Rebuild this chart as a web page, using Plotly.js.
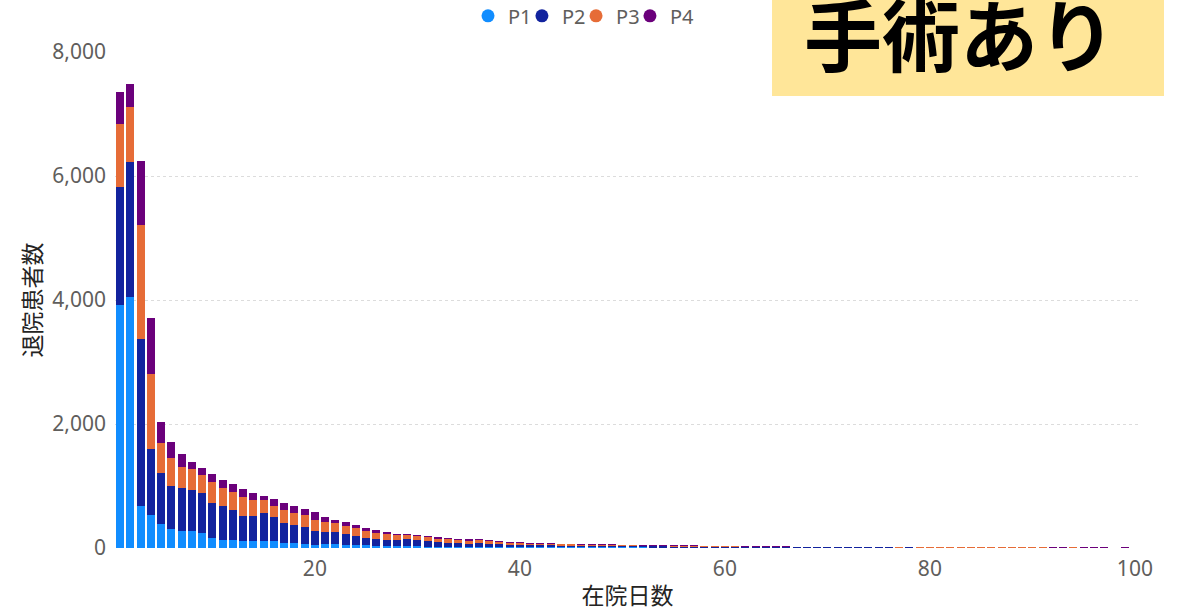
<!DOCTYPE html>
<html>
<head>
<meta charset="utf-8">
<script src="https://cdn.plot.ly/plotly-3.0.1.min.js"></script>
<style>html,body{margin:0;padding:0;background:#fff;}#chart{width:1188px;height:613px;}</style>
</head>
<body>
<div id="chart"></div>
<script>
// 在院日数 1..100
const days = Array.from({length: 100}, (_, i) => i + 1);

const seriesNames = ["P1", "P2", "P3", "P4"];
const seriesColors = ["#118DFF", "#12239E", "#E66C37", "#6B007B"];

const p1 = [3914,4043,680,525,392,306,268,278,242,160,
  129,134,113,118,108,113,81,75,65,48,
  65,59,54,48,43,32,27,27,30,27,
  22,22,16,16,16,16,16,16,16,16,
  16,16,16,16,14,13,12,11,10,10,
  9,9,8,8,7,8,7,6,6,5,
  5,5,5,4,4,4,4,4,3,3,
  3,3,3,3,3,2,2,3,2,2,
  2,2,2,2,2,2,2,1,2,1,
  2,1,1,2,1,1,1,1,1,1];
const p2 = [1914,2183,2691,1072,812,699,694,657,640,560,
  543,484,408,398,451,387,317,301,268,221,
  188,204,172,146,124,119,107,100,108,108,
  86,75,70,70,54,59,54,43,38,32,
  27,27,27,22,24,22,23,20,21,19,
  20,17,18,17,16,15,16,14,13,12,
  12,11,11,11,10,10,9,9,9,8,
  8,8,7,7,7,7,6,6,6,6,
  5,6,5,5,5,5,4,5,4,4,
  4,4,4,4,4,3,4,3,3,3];
const p3 = [1011,882,1833,1204,484,441,350,334,295,345,
  301,280,296,253,215,183,215,194,199,183,
  161,146,134,134,113,91,97,81,65,59,
  65,54,54,43,48,48,43,38,32,27,
  27,22,22,22,20,19,18,17,18,15,
  15,13,14,14,12,12,13,11,12,9,
  9,8,8,8,8,7,7,7,6,7,
  6,6,6,5,5,5,5,4,4,4,
  4,4,4,3,4,3,4,3,3,4,
  3,3,3,3,3,3,2,3,3,2];
const p4 = [521,370,1038,904,339,269,199,123,108,123,
  124,129,140,123,70,102,118,113,102,123,
  91,43,54,48,48,48,32,22,22,22,
  27,22,16,22,22,16,16,16,16,16,
  16,16,16,11,12,11,12,11,10,10,
  10,9,8,9,8,8,7,7,7,6,
  6,6,5,5,5,5,4,4,4,4,
  4,3,4,3,3,3,3,3,3,2,
  3,2,2,3,2,2,2,2,2,2,
  2,2,2,1,2,2,2,1,2,2];
const seriesValues = [p1, p2, p3, p4];

const xTicks = [20, 40, 60, 80, 100];
const yTicks = [0, 2000, 4000, 6000, 8000];
const xTitle = "在院日数";
const yTitle = "退院患者数";
const badgeText = "手術あり";

const FONT = "'Noto Sans', 'Noto Sans CJK JP', sans-serif";
const GRAY = "#605E5C";

const legendIds = ["legend", "legend2", "legend3", "legend4"];
const legendX = [0.3444, 0.397, 0.4498, 0.5024];

const traces = [];
seriesNames.forEach((name, i) => {
  traces.push({
    type: "bar",
    name: name,
    x: days,
    y: seriesValues[i],
    marker: {color: seriesColors[i], line: {width: 0}},
    showlegend: false,
    hovertemplate: name + ": %{y}<extra></extra>"
  });
});
// legend entries with round markers
seriesNames.forEach((name, i) => {
  traces.push({
    type: "scatter",
    mode: "markers",
    name: name,
    x: [null],
    y: [null],
    legend: legendIds[i],
    marker: {color: seriesColors[i], size: 13, symbol: "circle"},
    showlegend: true,
    hoverinfo: "skip"
  });
});

const layout = {
  width: 1188,
  height: 613,
  paper_bgcolor: "#ffffff",
  plot_bgcolor: "#ffffff",
  barmode: "stack",
  bargap: 0.2,
  margin: {l: 115, r: 48, t: 52, b: 65, autoexpand: false},
  font: {family: FONT, color: GRAY, size: 18},
  showlegend: true,
  xaxis: {
    range: [0.5, 100.5],
    tickvals: xTicks,
    ticktext: xTicks.map(String),
    showgrid: false,
    zeroline: false,
    showline: false,
    ticks: "",
    ticklabelstandoff: 6,
    automargin: false,
    tickfont: {family: FONT, size: 21, color: GRAY},
    title: {text: xTitle, font: {family: FONT, size: 23, color: "#252423"}, standoff: 6}
  },
  yaxis: {
    range: [0, 8000],
    tickvals: yTicks,
    tickformat: ",d",
    showgrid: true,
    gridcolor: "#DCDCDC",
    griddash: "dot",
    gridwidth: 1,
    zeroline: false,
    showline: false,
    ticks: "",
    ticklabelstandoff: 8,
    automargin: false,
    tickfont: {family: FONT, size: 21, color: GRAY},
    title: {text: yTitle, font: {family: FONT, size: 23, color: "#252423"}, standoff: 4}
  },
  shapes: [{
    type: "rect", xref: "paper", yref: "paper",
    x0: 0.641, x1: 1.0234, y0: 0.9113, y1: 1.2,
    fillcolor: "#FFE699", line: {width: 0}, layer: "above"
  }],
  annotations: [{
    xref: "paper", yref: "paper",
    x: 0.8245, y: 1.041, xanchor: "center", yanchor: "middle",
    text: "<b>" + badgeText + "</b>",
    showarrow: false,
    font: {family: "'Noto Sans CJK JP', sans-serif", size: 78, color: "#000000"}
  }]
};
legendIds.forEach((id, i) => {
  layout[id] = {
    orientation: "h",
    x: legendX[i], xanchor: "left",
    y: 1.073, yanchor: "middle",
    font: {family: FONT, size: 20, color: GRAY},
    itemwidth: 30,
    bgcolor: "rgba(0,0,0,0)"
  };
});

Plotly.newPlot("chart", traces, layout, {displayModeBar: false, staticPlot: true});
</script>
</body>
</html>
